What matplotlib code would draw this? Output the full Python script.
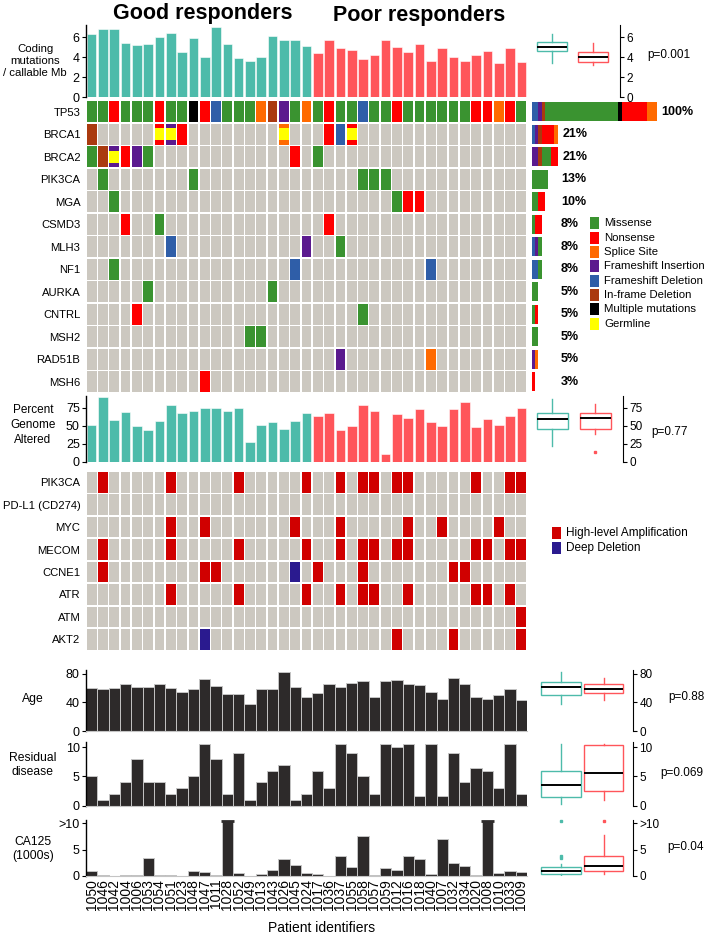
import numpy as np
import matplotlib
matplotlib.use("Agg")
import matplotlib.pyplot as plt
from matplotlib.patches import Rectangle

plt.rcParams["font.family"] = ["Liberation Sans", "DejaVu Sans"]

W, H = 709, 939

patients = ["1050", "1046", "1042", "1004", "1006", "1053", "1054", "1051", "1023", "1048",
            "1047", "1011", "1028", "1052", "1049", "1013", "1043", "1026", "1045", "1024",
            "1017", "1036", "1037", "1055", "1058", "1057", "1059", "1012", "1016", "1018",
            "1040", "1007", "1032", "1034", "1020", "1008", "1010", "1033", "1009"]
n_good = 20  # first 20 are good responders

coding = [6.33, 6.83, 6.77, 5.4, 5.17, 5.3, 6.03, 6.37, 4.53, 5.9, 4.0, 7.0, 5.33, 3.9, 3.57,
          3.97, 6.13, 5.67, 5.73, 5.1, 4.43, 5.7, 4.9, 4.73, 3.77, 4.23, 5.7, 5.03, 4.5, 5.3,
          3.63, 4.9, 3.97, 3.6, 4.2, 4.6, 3.4, 4.9, 3.47]
pga = [51, 90, 58, 69, 50, 44, 56, 78, 68, 70, 74, 74, 71, 74, 27, 51, 55, 46, 56, 68,
       64, 68, 44, 49, 78, 70, 10.5, 66, 61, 73, 55, 50, 73, 83, 48, 59, 51, 64, 75]
age = [60, 58, 60, 65, 61, 62, 66, 60, 54, 59, 72, 63, 52, 52, 38, 59, 58, 82, 62, 48,
       53, 66, 62, 67, 69, 48, 69, 71, 65, 64, 54, 44, 74, 66, 48, 44, 50, 58, 43]
residual = [5, 1, 2, 4, 8, 4, 4, 2, 3, 5, 10.5, 8, 2, 9, 1, 4, 6, 7, 1, 2,
            6, 3, 10.5, 9, 5, 2, 10.5, 10, 10.5, 1.6, 10.5, 1.6, 9, 4, 6.5, 6, 3, 10.5, 2]
nan = np.nan
ca125 = [1.0, 0.2, nan, 0.2, 0.15, 3.5, 0.25, 0.1, nan, 0.95, 0.75, 0.2, 10.5, 0.5, nan,
         0.4, 1.15, 3.2, 2.0, 0.5, 0.35, nan, 3.7, 1.7, 7.65, 0.1, 1.5, 1.2, 3.7, 3.2,
         0.3, 7.0, 2.5, 1.85, 0.2, 10.5, 0.65, 1.0, 0.85]
ca125_cap = 10  # values above are shown as ">10"

# mutation calls: G missense, R nonsense, O splice, P fs insertion, B fs deletion,
# X in-frame deletion, K multiple
mut_genes = ["TP53", "BRCA1", "BRCA2", "PIK3CA", "MGA", "CSMD3", "MLH3", "NF1", "AURKA",
             "CNTRL", "MSH2", "RAD51B", "MSH6"]
tp53_calls = "GGRGGGRGGKRBGGGOXPGOGRGGBGGRGGGGGGRRORG"
mut_sparse = ["0X 6R 7P 8R 17O 21R 22B 23R",
              "0G 1X 2P 3R 4P 5G 18R 20G",
              "1G 9G 24G 25G 26G",
              "2G 27G 28R 29R",
              "3R 6G 21R",
              "7B 19P 22G",
              "2G 18B 30B",
              "5G 16G",
              "4R 24G",
              "14G 15G",
              "22P 30O",
              "10R"]
germline = {"BRCA1": [6, 7, 17, 23], "BRCA2": [2]}
mut_pct = ["100%", "21%", "21%", "13%", "10%", "8%", "8%", "8%", "5%", "5%", "5%", "5%", "3%"]

cna_genes = ["PIK3CA", "PD-L1 (CD274)", "MYC", "MECOM", "CCNE1", "ATR", "ATM", "AKT2"]
cna_sparse = ["1A 7A 13A 19A 22A 24A 25A 27A 28A 34A 37A 38A",
              "",
              "7A 10A 18A 22A 28A 31A 36A",
              "1A 7A 13A 19A 22A 24A 25A 27A 28A 34A 35A 37A 38A",
              "1A 10A 11A 18D 20A 24A 32A 33A",
              "7A 13A 19A 22A 24A 25A 28A 34A 35A 37A",
              "38A",
              "10D 27A 32A 38A"]

# side box plots: whislo, q1, med, q3, whishi (good, poor)
coding_box = [[3.37, 4.6, 5.0, 5.5, 6.27], [3.2, 3.47, 4.03, 4.47, 5.37]]
pga_box = [[22.7, 45.5, 58.6, 68.2, 87.3], [39, 45.5, 60, 68.2, 79.5]]
pga_fliers = [[], [13.6]]
age_box = [[37.9, 50.4, 61, 68.4, 82.3], [43, 53.2, 59.2, 66.1, 74]]
residual_box = [[0.34, 1.43, 3.49, 6.0, 10.5], [0.91, 2.46, 5.66, 10.34, 10.6]]
ca125_box = [[0.19, 0.32, 0.89, 1.65, 2.28], [0.38, 0.89, 1.9, 3.8, 7.8]]
ca125_fliers = [[3.5, 3.8, 10.5], [10.5]]
p_values = ["p=0.001", "p=0.77", "p=0.88", "p=0.069", "p=0.04"]

TEAL = "#4DBBAA"
SALMON = "#FF555A"
GRAY = "#CCC8C0"
DARK = "#2D2A2A"
MUT_COLORS = {"G": "#3A9330", "R": "#FF0000", "O": "#FF6A00", "P": "#5B1A8E",
              "B": "#2F5EA8", "X": "#AA3A0F", "K": "#000000"}
CNA_COLORS = {"A": "#D00000", "D": "#2A1A8F"}
COUNT_ORDER = ["B", "P", "X", "G", "K", "R", "O"]

n = len(patients)
x = np.arange(n)
group_colors = [TEAL if i < n_good else SALMON for i in range(n)]

fig = plt.figure(figsize=(W / 100, H / 100), dpi=100)


def px_axes(x0, y0, x1, y1):
    return fig.add_axes([x0 / W, 1 - y1 / H, (x1 - x0) / W, (y1 - y0) / H])


def expand(spec):
    row = ["."] * n
    for item in spec.split():
        row[int(item[:-1])] = item[-1]
    return row


def bar_axes_style(ax, ylim, ticks, labels=None):
    ax.set_xlim(-0.5, n - 0.5)
    ax.set_ylim(*ylim)
    for s in ["top", "right", "bottom"]:
        ax.spines[s].set_visible(False)
    ax.spines["left"].set_linewidth(1)
    ax.set_xticks([])
    ax.set_yticks(ticks)
    if labels:
        ax.set_yticklabels(labels)
    ax.tick_params(axis="y", labelsize=9, length=3, pad=1.5)


def box_panel(rect, stats, fliers, xlim, widths, ylim, ticks, labels=None):
    ax = px_axes(*rect)
    bstats = []
    for st, fl in zip(stats, fliers):
        lo, q1, med, q3, hi = st
        bstats.append(dict(whislo=lo, q1=q1, med=med, q3=q3, whishi=hi, fliers=fl))
    for k, col in enumerate([TEAL, SALMON]):
        ax.bxp([bstats[k]], positions=[k + 1], widths=widths, showcaps=False,
               patch_artist=True,
               boxprops=dict(facecolor="white", edgecolor=col, linewidth=1),
               whiskerprops=dict(color=col, linewidth=1),
               medianprops=dict(color="black", linewidth=1.4),
               flierprops=dict(marker="s", markersize=2, markerfacecolor=col,
                               markeredgecolor=col, clip_on=False))
    ax.set_xlim(*xlim)
    ax.set_ylim(*ylim)
    for s in ["top", "left", "bottom"]:
        ax.spines[s].set_visible(False)
    ax.yaxis.tick_right()
    ax.set_yticks(ticks)
    if labels:
        ax.set_yticklabels(labels)
    ax.set_xticks([])
    ax.tick_params(axis="y", labelsize=8.5, length=3, pad=1.5)
    return ax


def draw_grid(ax, rows, colors, genes, germ=None):
    for r, row in enumerate(rows):
        for c, code in enumerate(row):
            ax.add_patch(Rectangle((c - 0.435, r - 0.46), 0.87, 0.92,
                                   color=colors.get(code, GRAY), lw=0))
            if germ and c in germ.get(genes[r], []):
                ax.add_patch(Rectangle((c - 0.435, r - 0.27), 0.87, 0.54,
                                       color="#FFFF00", lw=0))
    ax.set_xlim(-0.5, n - 0.5)
    ax.set_ylim(len(rows) - 0.5, -0.5)
    for s in ax.spines.values():
        s.set_visible(False)
    ax.set_xticks([])
    ax.set_yticks(range(len(rows)))
    ax.set_yticklabels(genes)
    ax.tick_params(axis="y", length=0, pad=4, labelsize=8.1)


# --- coding mutations
ax = px_axes(86, 25, 527, 97)
ax.bar(x, coding, width=0.85, color=group_colors, edgecolor="white", linewidth=0.4)
bar_axes_style(ax, (0, 7.2), [0, 2, 4, 6])
box_panel((533, 25, 620, 97), coding_box, [[], []], (0.537, 2.66), 0.75, (0, 7.2), [0, 2, 4, 6])

# --- mutation grid
mut_rows = [list(tp53_calls)] + [expand(s) for s in mut_sparse]
ax = px_axes(86, 100.5, 527, 393)
draw_grid(ax, mut_rows, MUT_COLORS, mut_genes, germline)

ax = px_axes(532, 100.5, 660, 393)
for r, row in enumerate(mut_rows):
    left = 0
    for code in COUNT_ORDER:
        cnt = row.count(code)
        if cnt:
            ax.barh(r, cnt, left=left, height=0.84, color=MUT_COLORS[code], lw=0)
            left += cnt
    ax.text(max(left + 1.5, 9), r, mut_pct[r], va="center", ha="left",
            fontsize=9, fontweight="bold", clip_on=False)
ax.set_xlim(0, 40)
ax.set_ylim(len(mut_rows) - 0.5, -0.5)
ax.axis("off")

# --- percent genome altered
ax = px_axes(86, 396, 527, 462)
ax.bar(x, pga, width=0.85, color=group_colors, edgecolor="white", linewidth=0.4)
bar_axes_style(ax, (0, 91), [0, 25, 50, 75])
box_panel((533, 396, 623, 462), pga_box, pga_fliers, (0.558, 2.65), 0.72, (0, 91), [0, 25, 50, 75])

# --- copy number grid
cna_rows = [expand(s) for s in cna_sparse]
ax = px_axes(86, 471, 527, 650.5)
draw_grid(ax, cna_rows, CNA_COLORS, cna_genes)

# --- clinical panels
clin = [(age, (670, 731), (0, 85), [0, 40, 80], None, age_box, [[], []]),
        (residual, (742, 805.7), (0, 10.9), [0, 5, 10], None, residual_box, [[], []]),
        (ca125, (820, 876), (0, 10.6), [0, 5, 10], ["0", "5", ">10"], ca125_box, ca125_fliers)]
for vals, (y0, y1), ylim, ticks, labels, bstat, bfl in clin:
    ax = px_axes(86, y0, 527, y1)
    ax.bar(x, vals, width=1.0, color=DARK, edgecolor="#C4C4C4", linewidth=0.7)
    bar_axes_style(ax, ylim, ticks, labels)
    ax.spines["bottom"].set_visible(True)
    ax.spines["bottom"].set_color("#C4C4C4")
    box_panel((535, y0, 633, y1), bstat, bfl, (0.388, 2.694), 0.94, ylim, ticks, labels)
    last = ax

capped = [i for i, v in enumerate(ca125) if v > ca125_cap]
last.hlines([ca125[i] for i in capped], [i - 0.6 for i in capped], [i + 0.6 for i in capped],
            color=DARK, lw=2, clip_on=False)
last.set_xticks(x)
last.set_xticklabels(patients, rotation=90, fontsize=10)
last.tick_params(axis="x", length=0, pad=2)

# --- overlay: titles, labels, legends
ov = fig.add_axes([0, 0, 1, 1])
ov.set_xlim(0, W)
ov.set_ylim(H, 0)
ov.axis("off")

ov.text(203, 13, "Good responders", ha="center", va="center", fontsize=15.5, fontweight="bold")
ov.text(419, 15, "Poor responders", ha="center", va="center", fontsize=15.5, fontweight="bold")

side_labels = [(35, 61, "Coding\nmutations\n/ callable Mb", 8.2),
               (33, 425, "Percent\nGenome\nAltered", 8.5),
               (33, 699, "Age", 8.7),
               (33, 765, "Residual\ndisease", 8.7),
               (33, 849, "CA125\n(1000s)", 8.7)]
for lx, ly, txt, fs in side_labels:
    ov.text(lx, ly, txt, ha="center", va="center", fontsize=fs, linespacing=1.3)

p_pos = [(669, 55), (670, 432), (686, 697), (682, 773), (686, 847)]
for (px, py), txt in zip(p_pos, p_values):
    ov.text(px, py, txt, ha="center", va="center", fontsize=8.5)

mut_legend = [("G", "Missense"), ("R", "Nonsense"), ("O", "Splice Site"),
              ("P", "Frameshift Insertion"), ("B", "Frameshift Deletion"),
              ("X", "In-frame Deletion"), ("K", "Multiple mutations"), (None, "Germline")]
for k, (code, lab) in enumerate(mut_legend):
    yc = 223.3 + k * 14.35
    col = MUT_COLORS[code] if code else "#FFFF00"
    ov.add_patch(Rectangle((590, yc - 6), 9, 12, color=col, lw=0))
    ov.text(604, yc, lab, ha="left", va="center", fontsize=8.2)

for k, (code, lab) in enumerate([("A", "High-level Amplification"), ("D", "Deep Deletion")]):
    yc = 533 + k * 15
    ov.add_patch(Rectangle((552, yc - 6), 9, 12, color=CNA_COLORS[code], lw=0))
    ov.text(566, yc, lab, ha="left", va="center", fontsize=8.5)

ov.text(322, 928, "Patient identifiers", ha="center", va="center", fontsize=10)

fig.savefig("out.png", dpi=100)
